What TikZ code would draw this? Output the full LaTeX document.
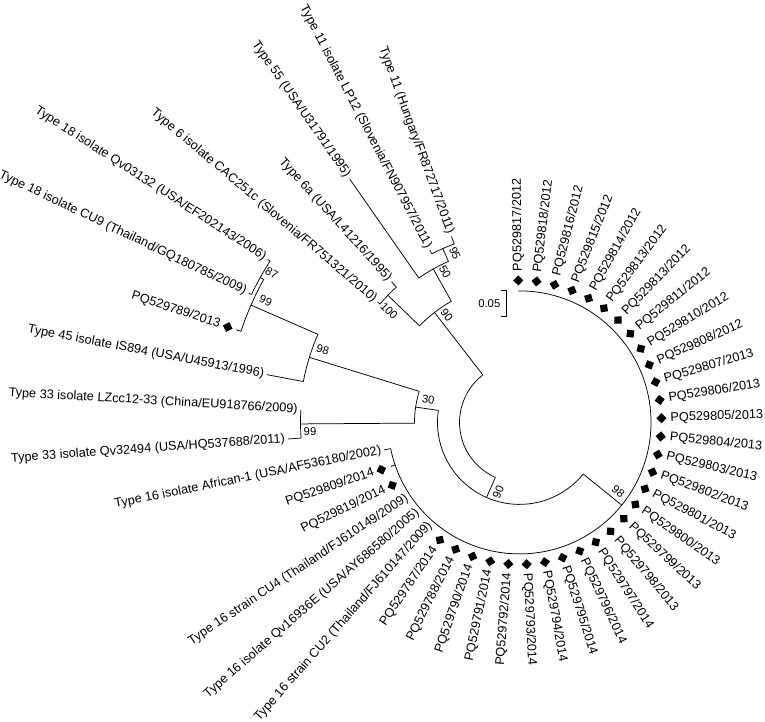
\documentclass[tikz,border=0pt]{standalone}
\usepackage{fontspec}
\setmainfont{Liberation Sans}
\begin{document}
\begin{tikzpicture}[x=1pt,y=1pt,
  br/.style={line width=0.75pt, black},
  lab/.style={font=\fontsize{12.7}{14}\selectfont, inner sep=0pt},
  bs/.style={font=\fontsize{11.3}{13}\selectfont, inner sep=0pt},
  mk/.style={fill=black, draw=none, inner sep=0pt, minimum size=7.2pt}]
\useasboundingbox (0,0) rectangle (765,721);
\begin{scope}[shift={(519.5,298.6)}]
% ---------- root ----------
\coordinate (rA) at (127.7:60);
\coordinate (rB) at (246.3:60);
\draw[br] (rA) arc[start angle=127.7, end angle=246.3, radius=60];
% ---------- upper clade ----------
\coordinate (n90u) at (127.7:139);
\coordinate (n90ua) at (136:139);
\coordinate (n90ub) at (119.35:139);
\draw[br] (rA) -- (n90u);
\draw[br] (n90ua) arc[start angle=136, end angle=119.35, radius=139];
% node 100
\coordinate (n100) at (136:183);
\coordinate (n100a) at (139.7:183);
\coordinate (n100b) at (132.3:183);
\draw[br] (n90ua) -- (n100);
\draw[br] (n100a) arc[start angle=139.7, end angle=132.3, radius=183];
\coordinate (t42) at (139.7:186);
\coordinate (t43) at (132.3:190);
\draw[br] (n100a) -- (t42);
\draw[br] (n100b) -- (t43);
% node 50
\coordinate (n50) at (119.35:176);
\coordinate (n50a) at (124.9:176);
\coordinate (n50b) at (113.8:176);
\draw[br] (n90ub) -- (n50);
\draw[br] (n50a) arc[start angle=124.9, end angle=113.8, radius=176];
\coordinate (t44) at (124.9:297);
\draw[br] (n50a) -- (t44);
% node 95
\coordinate (n95) at (113.8:190);
\coordinate (n95a) at (117.5:190);
\coordinate (n95b) at (110.1:190);
\draw[br] (n50b) -- (n95);
\draw[br] (n95a) arc[start angle=117.5, end angle=110.1, radius=190];
\coordinate (t45) at (117.5:194);
\coordinate (t46) at (110.1:198);
\draw[br] (n95a) -- (t45);
\draw[br] (n95b) -- (t46);
% ---------- lower clade ----------
\coordinate (n90l) at (246.3:82);
\coordinate (n90la) at (171.6:82);
\coordinate (n90lb) at (321:82);
\draw[br] (rB) -- (n90l);
\draw[br] (n90la) arc[start angle=171.6, end angle=321, radius=82];
% PQ clade (node 98)
\coordinate (n98p) at (321:131.5);
\coordinate (n98pa) at (90.5:131.5);
\draw[br] (n90lb) -- (n98p);
\draw[br] (n98pa) arc[start angle=90.5, end angle=-168.5, radius=131.5];
% node 30
\coordinate (n30) at (171.6:105);
\coordinate (n30a) at (162.8:105);
\coordinate (n30b) at (180.4:105);
\draw[br] (n90la) -- (n30);
\draw[br] (n30a) arc[start angle=162.8, end angle=180.4, radius=105];
% node 99 (Type 33)
\coordinate (n99b) at (180.4:219);
\coordinate (n99ba) at (176.7:219);
\coordinate (n99bb) at (184.1:219);
\draw[br] (n30b) -- (n99b);
\draw[br] (n99ba) arc[start angle=176.7, end angle=184.1, radius=219];
\coordinate (t36) at (184.1:232);
\draw[br] (n99bb) -- (t36);
% node 98 (Type 45 ...)
\coordinate (n98b) at (162.8:220);
\coordinate (n98ba) at (156.4:220);
\coordinate (n98bb) at (169.3:220);
\draw[br] (n30a) -- (n98b);
\draw[br] (n98ba) arc[start angle=156.4, end angle=169.3, radius=220];
\coordinate (t38) at (169.3:257);
\draw[br] (n98bb) -- (t38);
% node 99 (Type 18 + PQ529789)
\coordinate (n99a) at (156.4:293);
\coordinate (n99aa) at (150.8:293);
\coordinate (n99ab) at (161.9:293);
\draw[br] (n98ba) -- (n99a);
\draw[br] (n99aa) arc[start angle=150.8, end angle=161.9, radius=293];
\coordinate (t39) at (161.9:298);
\draw[br] (n99ab) -- (t39);
% node 87
\coordinate (n87) at (150.8:297);
\coordinate (n87a) at (147.1:297);
\coordinate (n87b) at (154.5:297);
\draw[br] (n99aa) -- (n87);
\draw[br] (n87a) arc[start angle=147.1, end angle=154.5, radius=297];
\coordinate (t41) at (147.1:300);
\coordinate (t40) at (154.5:300);
\draw[br] (n87a) -- (t41);
\draw[br] (n87b) -- (t40);
% stubs on the big arc
\coordinate (l35) at (191.5:131.5);
\coordinate (t35) at (191.5:138);
\draw[br] (l35) -- (t35);
\coordinate (l34) at (198.9:131.5);
\coordinate (t34) at (198.9:136);
\draw[br] (l34) -- (t34);
% ---------- PQ leaves, right side ----------
\foreach \i/\n/\y in {0/817/2012,1/818/2012,2/816/2012,3/815/2012,4/814/2012,5/813/2012,6/813/2012,7/811/2012,8/810/2012,9/808/2012,10/807/2013,11/806/2013,12/805/2013,13/804/2013,14/803/2013,15/802/2013,16/801/2013,17/800/2013,18/799/2013,19/798/2013,20/797/2014,21/796/2014,22/795/2014,23/794/2014,24/793/2014}{
  \pgfmathsetmacro\a{90.5-7.4*\i}
  \node[mk, rotate=\a+45] (D\i) at (\a:142) {};
  \node[lab, rotate=\a, anchor=west] (T\i) at (\a:151) {PQ529\n/\y};
}
% ---------- PQ leaves, left side ----------
\foreach \i/\n/\y in {25/792/2014,26/791/2014,27/790/2014,28/788/2014,29/787/2014}{
  \pgfmathsetmacro\a{90.5-7.4*\i}
  \node[mk, rotate=\a+45] (D\i) at (\a:142) {};
  \node[lab, rotate=\a+180, anchor=east] (T\i) at (\a:151) {PQ529\n/\y};
}
% ---------- other leaves ----------
\node[lab, rotate=48.5, anchor=east] (T30) at (228.5:135) {Type 16 strain CU2 (Thailand/FJ610147/2009)};
\node[lab, rotate=41.1, anchor=east] (T31) at (221.1:135) {Type 16 isolate Qv16936E (USA/AY686580/2005)};
\node[lab, rotate=33.7, anchor=east] (T32) at (213.7:135) {Type 16 strain CU4 (Thailand/FJ610149/2009)};
\node[mk, rotate=206.3+45] (D33) at (206.3:142) {};
\node[lab, rotate=26.3, anchor=east] (T33) at (206.3:150) {PQ529819/2014};
\node[mk, rotate=198.9+45] (D34) at (198.9:146) {};
\node[lab, rotate=18.9, anchor=east] (T34) at (198.9:154) {PQ529809/2014};
\node[lab, rotate=11.5, anchor=east] (T35) at (191.5:141) {Type 16 isolate African-1 (USA/AF536180/2002)};
\node[lab, rotate=4.1, anchor=east] (T36) at (184.1:235) {Type 33 isolate Qv32494 (USA/HQ537688/2011)};
\node[lab, rotate=-3.3, anchor=east] (T37) at (176.7:222) {Type 33 isolate LZcc12-33 (China/EU918766/2009)};
\node[lab, rotate=-10.7, anchor=east] (T38) at (169.3:260) {Type 45 isolate IS894 (USA/U45913/1996)};
\node[mk, rotate=161.9+45] (D39) at (161.9:307) {};
\node[lab, rotate=-18.1, anchor=east] (T39) at (161.9:315) {PQ529789/2013};
\node[lab, rotate=-25.5, anchor=east] (T40) at (154.5:303) {Type 18 isolate CU9 (Thailand/GQ180785/2009)};
\node[lab, rotate=-32.9, anchor=east] (T41) at (147.1:303) {Type 18 isolate Qv03132 (USA/EF202143/2006)};
\node[lab, rotate=-40.3, anchor=east] (T42) at (139.7:189) {Type 6 isolate CAC251c (Slovenia/FR751321/2010)};
\node[lab, rotate=-47.7, anchor=east] (T43) at (132.3:193) {Type 6a (USA/L41216/1995)};
\node[lab, rotate=-55.1, anchor=east] (T44) at (124.9:300) {Type 55 (USA/U31791/1995)};
\node[lab, rotate=-62.5, anchor=east] (T45) at (117.5:197) {Type 11 isolate LP12 (Slovenia/FN907957/2011)};
\node[lab, rotate=-69.9, anchor=east] (T46) at (110.1:201) {Type 11 (Hungary/FR872717/2011)};
% ---------- bootstrap values ----------
\node[bs, rotate=-66] (b95) at (-64.5,169.1) {95};
\node[bs, rotate=-61] (b50) at (-74.5,150.7) {50};
\node[bs, rotate=-52] (b90u) at (-72.8,107.4) {90};
\node[bs, rotate=-44] (b100) at (-130.5,111.4) {100};
\node[bs, rotate=-29] (b87) at (-247.8,149.1) {87};
\node[bs, rotate=-23.6] (b99a) at (-253.8,121.7) {99};
\node[bs, rotate=-17] (b98b) at (-196.8,72.4) {98};
\node[bs, rotate=-8.4] (b30) at (-91.2,22.4) {30};
\node[bs] (b99b) at (-209.5,-9.3) {99};
\node[bs, rotate=66.3] (b90l) at (-21.2,-69.3) {90};
\node[bs, rotate=-39] (b98p) at (98.8,-69.3) {98};
\end{scope}
% ---------- scale bar ----------
\coordinate (sbT) at (501,431);
\coordinate (sbTR) at (506,431);
\coordinate (sbBR) at (506,404.3);
\coordinate (sbB) at (501,404.3);
\draw[br] (sbT) -- (sbTR) -- (sbBR) -- (sbB);
\node[bs, anchor=east] (sbl) at (500.5,417.6) {0.05};
\end{tikzpicture}
\end{document}
